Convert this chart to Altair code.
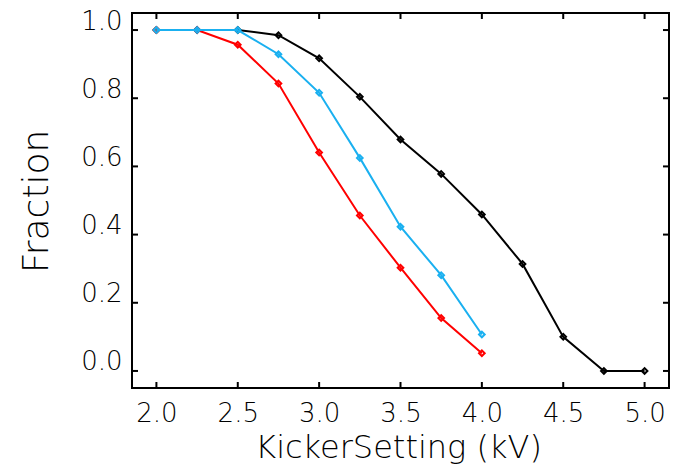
import altair as alt
import pandas as pd

kv = [2.0, 2.25, 2.5, 2.75, 3.0, 3.25, 3.5, 3.75, 4.0, 4.25, 4.5, 4.75, 5.0]
black_vals = [1.0, 1.0, 1.0, 0.985, 0.917, 0.804, 0.679, 0.578, 0.459, 0.314, 0.100, 0.0, 0.0]
kv_short = [2.0, 2.25, 2.5, 2.75, 3.0, 3.25, 3.5, 3.75, 4.0]
red_vals = [1.0, 1.0, 0.957, 0.843, 0.641, 0.456, 0.303, 0.155, 0.052]
cyan_vals = [1.0, 1.0, 1.0, 0.929, 0.816, 0.625, 0.423, 0.281, 0.107]

x_ticks = [2.0, 2.5, 3.0, 3.5, 4.0, 4.5, 5.0]
y_ticks = [0.0, 0.2, 0.4, 0.6, 0.8, 1.0]

W, H = 537, 375
XDOM = [1.85, 5.15]
YDOM = [-0.05, 1.05]
FONT = "DejaVu Sans"

xs = alt.Scale(domain=XDOM, nice=False, zero=False)
ys = alt.Scale(domain=YDOM, nice=False, zero=False)

def series(xv, yv, color):
    df = pd.DataFrame({"kv": xv, "frac": yv})
    base = alt.Chart(df)
    line = base.mark_line(color=color, strokeWidth=2).encode(
        x=alt.X("kv:Q", scale=xs), y=alt.Y("frac:Q", scale=ys))
    pts = base.mark_point(color=color, shape="diamond", filled=False, size=32, strokeWidth=2, opacity=1).encode(
        x=alt.X("kv:Q", scale=xs), y=alt.Y("frac:Q", scale=ys))
    return line + pts

xt = pd.DataFrame({"xt": x_ticks})
yt = pd.DataFrame({"yt": y_ticks})

axis_x = alt.Axis(values=x_ticks, format=".1f", ticks=False, domain=False, grid=False,
                  labelFont=FONT, labelFontSize=26, labelFontWeight=300, labelColor="black",
                  labelPadding=12, labelFlush=False,
                  title="KickerSetting (kV)", titleFont=FONT, titleFontSize=32, titleFontWeight=300,
                  titleColor="black", titleX=266, titleY=69, titleBaseline="alphabetic", titleAlign="center")
axis_y = alt.Axis(values=y_ticks, format=".1f", ticks=False, domain=False, grid=False,
                  labelFont=FONT, labelFontSize=26, labelFontWeight=300, labelColor="black",
                  labelPadding=10, labelBaseline="middle", labelOffset=-9, labelFlush=False,
                  title="Fraction", titleFont=FONT, titleFontSize=36, titleFontWeight=300,
                  titleColor="black", titleX=-85, titleY=188, titleAngle=270,
                  titleBaseline="alphabetic", titleAlign="center")

bottom_ticks = alt.Chart(xt).mark_rule(color="black", strokeWidth=2).encode(
    x=alt.X("xt:Q", scale=xs, axis=axis_x),
    y=alt.value(H - 6), y2=alt.value(H))
top_ticks = alt.Chart(xt).mark_rule(color="black", strokeWidth=2).encode(
    x=alt.X("xt:Q", scale=xs),
    y=alt.value(0), y2=alt.value(6))
left_ticks = alt.Chart(yt).mark_rule(color="black", strokeWidth=2).encode(
    y=alt.Y("yt:Q", scale=ys, axis=axis_y), x=alt.value(0), x2=alt.value(6))
right_ticks = alt.Chart(yt).mark_rule(color="black", strokeWidth=2).encode(
    y=alt.Y("yt:Q", scale=ys), x=alt.value(W - 6), x2=alt.value(W))

chart = alt.layer(
    bottom_ticks, left_ticks, top_ticks, right_ticks,
    series(kv, black_vals, "black"),
    series(kv_short, red_vals, "#ff0000"),
    series(kv_short, cyan_vals, "#1ab0f0"),
).properties(
    width=W, height=H,
    autosize=alt.AutoSizeParams(type="none"),
    padding={"left": 132, "top": 13, "right": 17, "bottom": 79},
).configure(background="white").configure_view(stroke="black", strokeWidth=2)

chart.save("out.html", embed_options={"renderer": "svg", "actions": False})
